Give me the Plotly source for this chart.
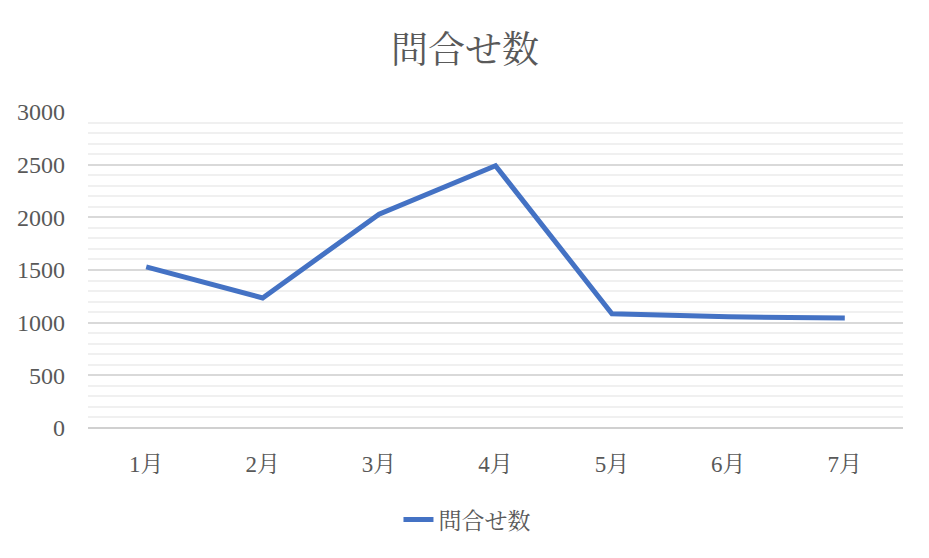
import plotly.graph_objects as go

months = ["1月", "2月", "3月", "4月", "5月", "6月", "7月"]
inquiries = [1530, 1235, 2030, 2490, 1085, 1055, 1045]
series_name = "問合せ数"
y_ticks = [0, 500, 1000, 1500, 2000, 2500, 3000]

FONT = "Liberation Serif, Noto Serif CJK JP, Noto Sans CJK JP, serif"

fig = go.Figure()
fig.add_trace(go.Scatter(
    x=months, y=inquiries, mode="lines", name=series_name,
    line=dict(color="#4472C4", width=5, shape="linear"),
))

fig.update_layout(
    width=929, height=558,
    paper_bgcolor="white", plot_bgcolor="white",
    margin=dict(l=80, r=34, t=104, b=138),
    title=dict(text="問合せ数", x=0.492, xanchor="center", y=0.925, yanchor="middle",
               font=dict(family=FONT, size=37, color="#595959")),
    font=dict(family=FONT, size=22, color="#595959"),
    showlegend=True,
    legend=dict(orientation="h", x=0.465, xanchor="center", y=-0.29, yanchor="middle",
                font=dict(family=FONT, size=23, color="#595959")),
)
fig.update_xaxes(
    type="category", range=[-0.5, 6.5], showgrid=False, showline=False,
    zeroline=False, ticks="", ticklabelstandoff=20, automargin=False,
    tickfont=dict(family=FONT, size=23, color="#595959"),
)
fig.update_yaxes(
    range=[0, 3000], tickvals=y_ticks, showgrid=True, gridcolor="#D9D9D9",
    gridwidth=1.5, zeroline=True, zerolinecolor="#D0D0D0", zerolinewidth=1.5,
    showline=False, ticks="", ticklabelstandoff=22, automargin=False,
    tickfont=dict(family=FONT, size=24, color="#595959"),
    minor=dict(dtick=100, showgrid=True, gridcolor="#F0F0F0", gridwidth=1.5),
)

fig.write_html("out.html")
